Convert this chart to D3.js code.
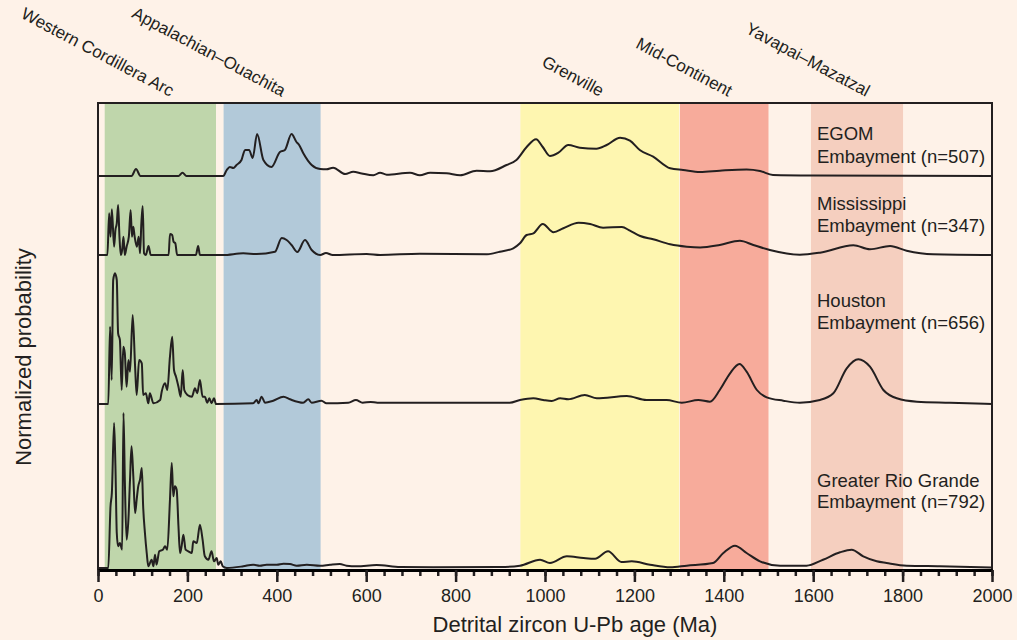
<!DOCTYPE html>
<html>
<head>
<meta charset="utf-8">
<script src="https://cdn.jsdelivr.net/npm/d3@7"></script>
<style>
  html, body { margin: 0; padding: 0; background: #fef2e8; }
  svg { display: block; font-family: "Liberation Sans", Arial, sans-serif; }
</style>
</head>
<body>
<svg id="chart" width="1017" height="640"></svg>
<script>
// Age provinces (Ma)
const bandNames = ["Western Cordillera Arc", "Appalachian\u2013Ouachita", "Grenville", "Mid-Continent", "Yavapai\u2013Mazatzal"];
const bandStart = [15, 281, 945, 1302, 1595];
const bandEnd = [264, 498, 1300, 1500, 1801];
const bandColors = ["#bfd6ab", "#b2c9d9", "#fef6b0", "#f7ab9b", "#f5cfbf"];
const bandLabelAge = [161, 411, 1123, 1410, 1718];

// Samples
const seriesNames = [["EGOM", "Embayment (n=507)"], ["Mississippi", "Embayment (n=347)"],
                     ["Houston", "Embayment (n=656)"], ["Greater Rio Grande", "Embayment (n=792)"]];
const seriesOffsets = [394, 315, 166, 2];

// Probability curves [age Ma, relative probability]
const egom = [[0,0],[75,0],[85,7],[95,0],[180,0],[189,3.3],[198,0],[280,0],[288,6],[295,9],[303,8],[310,11],[321,16],
  [329,26],[338,26],[346,18],[356,42],[370,16],[388,9],[407,24],[418,26],[433,42],[444,34],[450,31],[459,23],[478,11],
  [497,7],[511,6.7],[526,8.3],[553,2],[571,4.3],[590,2.5],[616,0.7],[631,3.3],[646,1.3],[698,3.3],[720,0.7],[743,3.3],
  [780,2.7],[810,0.7],[847,5.3],[877,4.7],[914,11],[936,16],[959,29],[980,36.7],[995,29],[1011,20],[1030,23.3],
  [1052,31],[1078,28.3],[1115,27.3],[1138,31],[1168,38.3],[1190,35.3],[1212,26],[1242,19.3],[1280,7.7],[1309,6],
  [1347,4],[1391,5.3],[1451,6.5],[1481,5],[1510,1],[1600,0.5],[2000,0]];

const mississippi = [[0,0],[21,0],[25,41.7],[28,18.3],[31,45.7],[36,8.3],[39,25],[42,31.7],[45,50],[48,18.3],[51,0],
  [54,5],[57,18.3],[60,0],[64,8.3],[69,18.3],[73,45],[76,18.3],[79,28.3],[82,18.3],[87,8.3],[91,18.3],[94,1.7],
  [97,31.7],[100,49],[103,1.7],[107,0],[113,9],[118,0],[158,0],[161,21],[166,20],[169,13.3],[173,11.7],[177,0],
  [219,0],[224,9],[228,0],[280,0],[325,1.7],[355,1],[396,3.3],[411,17],[422,15],[433,10],[446,3],[463,15],[478,5],
  [497,0],[510,2],[525,0],[601,1],[631,0],[720,1.3],[870,0.7],[899,3.3],[929,6.7],[944,11.7],[959,20],[974,21.7],
  [995,31],[1019,22.7],[1041,26.7],[1075,32.3],[1101,31],[1130,27.3],[1172,28],[1190,24.3],[1213,19],[1242,15.7],
  [1280,10.7],[1317,8.3],[1347,7.5],[1391,10],[1436,14.3],[1466,10],[1503,5],[1570,0.3],[1615,2.3],[1690,9.7],
  [1727,5.7],[1772,9],[1809,4.3],[1868,0.7],[2000,0]];

const houston = [[0,0],[23,0],[27,77.3],[30.6,24],[34,124],[38,130.7],[42,124],[45,70.7],[49,64],[53,14],[56.6,57.3],
  [60,50.7],[64,17.3],[68,44],[71.6,32.3],[77.6,89],[83,37.3],[86.5,9],[92,44],[98,40.7],[101,9],[107,10.7],
  [112.6,0.7],[116,10.7],[124,0.7],[139,4],[142.5,12.3],[150,20.7],[155,14],[161,47.3],[166,67.3],[170,34],
  [174.5,27.3],[180,17.3],[185,7.3],[189.5,34],[193,14],[200,9],[210,7.3],[217,15.7],[222,10.7],[228,24],[234,7.3],
  [239,7.3],[244.5,1.3],[249,5.7],[254,0.7],[259.5,5.7],[264,0],[347,0.7],[355,4],[359,0.7],[366,7.3],[373.6,1.3],
  [392,3.3],[415,7.3],[429.5,4.7],[459,1.3],[470.5,4.7],[478,1.3],[500,3.3],[511,0.7],[560,1.3],[577,4],[592,1.3],
  [610,2],[625,1.3],[921,1.3],[944,4],[974,5.7],[996,4],[1015,3],[1034,5.7],[1052,4.7],[1089,9],[1116,5.7],
  [1183,8],[1227,4],[1272,4],[1306,1.3],[1343,4],[1369,2.3],[1391,14],[1414,30.7],[1435,40],[1451,32.3],[1474,14],
  [1496,6.7],[1533,3.3],[1570,1.3],[1615,4],[1645,10.7],[1675,35.7],[1701,44.7],[1727,37.3],[1757,14],[1787,5.7],
  [1832,2.3],[1906,1.3],[2000,0]];

const rioGrande = [[0,0],[23,0],[28,61.7],[31,75],[36,145],[39,101.7],[42,35],[45,21.7],[49,25],[54,18.3],[57,155],
  [60,88.3],[64,28.3],[68,48.3],[71.6,88.3],[75,121.7],[79,91.7],[83,55],[86.5,68.3],[90,81.7],[94,88.3],[98,100],
  [101,61.7],[105,35],[109,15],[112.6,1.7],[120,8.3],[124,1.7],[127.5,13.3],[131,3.3],[137,16.7],[145,18.3],
  [150,21.7],[155,18.3],[161,68.3],[165,105],[168.5,71.7],[172,81.7],[176,78.3],[180,41.7],[183.5,15],[187,21.7],
  [191,33.3],[196,18.3],[202,16.7],[210,15],[213,26.7],[221,25],[228,43.3],[234,28.3],[239,11.7],[247,8.3],
  [254,16.7],[259.5,6.7],[265.5,10],[269,3.3],[274.5,6.7],[279,1.7],[288,0],[325,1.7],[347,3.3],[362,2.3],
  [377,3.3],[400,3.3],[415,4.3],[429.5,4],[444.5,2.3],[467,3.3],[497,2.3],[519,3.3],[541,4],[556,2.3],[579,1.7],
  [623,3],[676,1],[750,0.7],[899,1],[944,2.3],[989,8.3],[1011,5],[1049,11.7],[1086,10],[1112,9.3],[1141,16.7],
  [1171,6],[1194,6.7],[1235,3.3],[1280,0.7],[1317,2.3],[1376,5],[1399,15],[1425,22.3],[1451,15],[1481,6.7],
  [1526,2.3],[1585,2.3],[1622,8.3],[1660,15.7],[1686,18.3],[1712,11.7],[1742,6.7],[1764,5],[1809,2.3],[1883,1.7],
  [2000,0.5]];

const allSeries = [egom, mississippi, houston, rioGrande];
const majorTicks = d3.range(0, 2001, 200);
const minorTicks = d3.range(0, 2001, 40);

const svg = d3.select("#chart");
const margin = { top: 103, right: 25, bottom: 70, left: 98 };
const W = 1017, H = 640;
const innerW = W - margin.left - margin.right;
const innerH = H - margin.top - margin.bottom;

svg.append("rect").attr("width", W).attr("height", H).attr("fill", "#fef2e8");

const x = d3.scaleLinear().domain([0, 2000]).range([margin.left, margin.left + innerW]);
const y = d3.scaleLinear().domain([0, 467]).range([margin.top + innerH, margin.top]);

// Bands
svg.append("g").selectAll("rect")
  .data(bandStart)
  .enter().append("rect")
  .attr("x", (d) => x(d))
  .attr("width", (d, i) => x(bandEnd[i]) - x(d))
  .attr("y", margin.top)
  .attr("height", innerH)
  .attr("fill", (d, i) => bandColors[i]);

// Curves
const line = d3.line()
  .x(d => x(d[0]))
  .y(d => y(d[1]))
  .curve(d3.curveMonotoneX);

allSeries.forEach((s, i) => {
  const off = seriesOffsets[i];
  svg.append("path")
    .datum(s.map(p => [p[0], p[1] + off]))
    .attr("fill", "none")
    .attr("stroke", "#231f20")
    .attr("stroke-width", 2)
    .attr("stroke-linejoin", "round")
    .attr("d", line);
});

// Frame
svg.append("path")
  .attr("d", `M${x(0)},${y(0)}V${margin.top}H${x(2000)}V${y(0)}`)
  .attr("fill", "none")
  .attr("stroke", "#231f20")
  .attr("stroke-width", 2);

// Minor ticks
const minorAxis = svg.append("g")
  .attr("transform", `translate(0,${y(0)})`)
  .call(d3.axisBottom(x).tickValues(minorTicks).tickSize(6).tickFormat(""));
minorAxis.select(".domain").remove();

// Major ticks + labels
const majorAxis = svg.append("g")
  .attr("transform", `translate(0,${y(0)})`)
  .call(d3.axisBottom(x).tickValues(majorTicks).tickSize(12).tickSizeOuter(0)
    .tickPadding(7).tickFormat(d3.format("d")));
majorAxis.select(".domain").attr("stroke-width", 3);

svg.selectAll(".tick line").attr("stroke", "#231f20").attr("stroke-width", 2.5);
majorAxis.selectAll("text")
  .style("font-size", "18px")
  .style("font-family", "'Liberation Sans', Arial, sans-serif")
  .attr("fill", "#231f20");

// Axis titles
svg.append("text")
  .attr("x", 575)
  .attr("y", 632)
  .attr("text-anchor", "middle")
  .style("font-size", "22px")
  .attr("fill", "#231f20")
  .text("Detrital zircon U-Pb age (Ma)");

svg.append("text")
  .attr("transform", `translate(31,357) rotate(-90)`)
  .attr("text-anchor", "middle")
  .style("font-size", "22px")
  .attr("fill", "#231f20")
  .text("Normalized probability");

// Band labels (rotated)
svg.append("g").selectAll("text")
  .data(bandNames)
  .enter().append("text")
  .attr("transform", (d, i) => `translate(${x(bandLabelAge[i])},97) rotate(28)`)
  .attr("text-anchor", "end")
  .style("font-size", "17px")
  .attr("fill", "#231f20")
  .text(d => d);

// Series labels
const lblBaseline = [[140, 163], [210, 232], [307, 329], [487, 508]];
seriesNames.forEach((lines, i) => {
  lines.forEach((t, j) => {
    svg.append("text")
      .attr("x", 817)
      .attr("y", lblBaseline[i][j])
      .style("font-size", "18.5px")
      .attr("fill", "#231f20")
      .text(t);
  });
});
</script>
</body>
</html>
